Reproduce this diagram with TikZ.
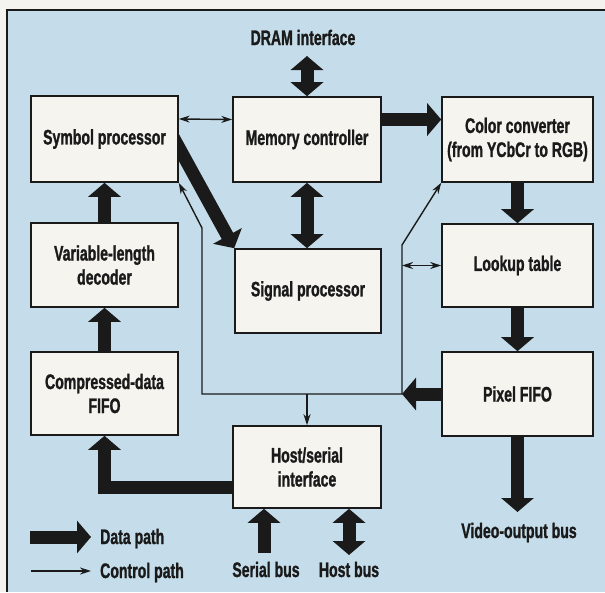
\documentclass[tikz,border=0pt]{standalone}
\usepackage{fontspec}
\setmainfont{Liberation Sans}[FakeStretch=0.67, BoldFeatures={FakeBold=1.2}]
\usetikzlibrary{arrows.meta,calc}
\definecolor{bgblue}{HTML}{C5DDEA}
\definecolor{boxfill}{HTML}{F5F4EF}
\definecolor{paper}{HTML}{F4F3EF}
\definecolor{ink}{HTML}{1A1A1A}
\pgfdeclarelayer{back}
\pgfdeclarelayer{bg}
\pgfsetlayers{back,bg,main}
\begin{document}
\begin{tikzpicture}[x=1pt,y=-1pt,
  every node/.style={font=\fontsize{21}{24}\selectfont\bfseries, text=ink},
  blk/.style={draw=ink, line width=1.6pt, fill=boxfill, align=center, inner sep=0pt},
  lbl/.style={inner sep=0pt},
  data/.style={draw=ink, line width=13pt, line join=miter, -{Triangle[width=32pt,length=14pt]}},
  ddata/.style={draw=ink, line width=13pt, {Triangle[width=32pt,length=14pt]}-{Triangle[width=32pt,length=14pt]}},
  ctrl/.style={draw=ink, line width=1.4pt, -{Stealth[width=7pt,length=11pt]}},
  dctrl/.style={draw=ink, line width=1.4pt, {Stealth[width=7pt,length=11pt]}-{Stealth[width=7pt,length=11pt]}},
  ]
\useasboundingbox (0,0) rectangle (605,592);
% boxes
\node[blk, minimum width=147pt, minimum height=86pt] (sym) at (104.5,139) {Symbol processor};
\node[blk, minimum width=148pt, minimum height=85pt] (mem) at (307,139.5) {Memory controller};
\node[blk, minimum width=151pt, minimum height=85pt] (col) at (517.5,139.5) {Color converter\\(from YCbCr to RGB)};
\node[blk, minimum width=147pt, minimum height=84pt] (vld) at (104.5,265) {Variable-length\\decoder};
\node[blk, minimum width=146pt, minimum height=84pt] (sig) at (308,291) {Signal processor};
\node[blk, minimum width=151pt, minimum height=83pt] (lut) at (517.5,265.5) {Lookup table};
\node[blk, minimum width=147pt, minimum height=83pt] (cdf) at (104.5,393.5) {Compressed-data\\FIFO};
\node[blk, minimum width=151pt, minimum height=84pt] (pix) at (517.5,394) {Pixel FIFO};
\node[blk, minimum width=148pt, minimum height=82pt] (host) at (307,467) {Host/serial\\interface};
% labels
\node[lbl, anchor=base] (dram) at (303,45) {DRAM interface};
\node[lbl, anchor=base] (vid) at (519,538) {Video-output bus};
\node[lbl, anchor=base] (ser) at (266,577) {Serial bus};
\node[lbl, anchor=base] (hb) at (349,577) {Host bus};
\node[lbl, anchor=base west] (ldata) at (100,544) {Data path};
\node[lbl, anchor=base west] (lctrl) at (100,578) {Control path};
% coordinates
\coordinate (dramtip) at (307,56);
\coordinate (vidtip) at (517.5,512);
\coordinate (sertail) at (264,553);
\coordinate (hbtip) at (349,555);
\coordinate (cL1) at (202,394);
\coordinate (cL2) at (202,228);
\coordinate (cR1) at (402,394);
\coordinate (cR2) at (402,245);
\coordinate (ld1) at (30,537);
\coordinate (ld2) at (91,537);
\coordinate (lc1) at (31,571);
\coordinate (lc2) at (91,571);
\begin{pgfonlayer}{back}
  \fill[paper] (0,0) rectangle (605,592);
  \fill[bgblue] (7,10) rectangle (605,592);
  \draw[ink, line width=1.5pt] (7,592) -- (7,10) -- (605,10);
\end{pgfonlayer}
\begin{pgfonlayer}{bg}
  % data paths
  \draw[ddata] (dramtip) -- (mem.north);
  \draw[ddata] (mem.south) -- (mem.south |- sig.north);
  \draw[data] ($(mem.east)+(0,-20)$) -- ($(col.west)+(0,-20)$);
  \draw[data] ($(sym.east)+(-6,-2.5)$) -- (sig.north west);
  \draw[data] (vld.north) -- (sym.south);
  \draw[data] (cdf.north) -- (vld.south);
  \draw[data] ($(host.west)+(0,20)$) -| (cdf.south);
  \draw[data] (col.south) -- (lut.north);
  \draw[data] (lut.south) -- (pix.north);
  \draw[data] (pix.south) -- (vidtip);
  \draw[data] (pix.west) -- (cR1);
  \draw[data] (sertail) -- (sertail |- host.south);
  \draw[ddata] (hbtip |- host.south) -- (hbtip);
  % control paths
  \draw[dctrl] ($(sym.east)+(0,-20)$) -- ($(mem.west)+(0,-20)$);
  \draw[ctrl] (cR1) -- (cL1) -- (cL2) -- (sym.south east);
  \draw[ctrl] (cR1) -- (cR2) -- (col.south west);
  \draw[dctrl] (cR1 |- lut.west) -- (lut.west);
  \draw[ctrl] (host.north |- cL1) -- (host.north);
  % legend
  \draw[data] (ld1) -- (ld2);
  \draw[ctrl] (lc1) -- (lc2);
\end{pgfonlayer}
\end{tikzpicture}
\end{document}
